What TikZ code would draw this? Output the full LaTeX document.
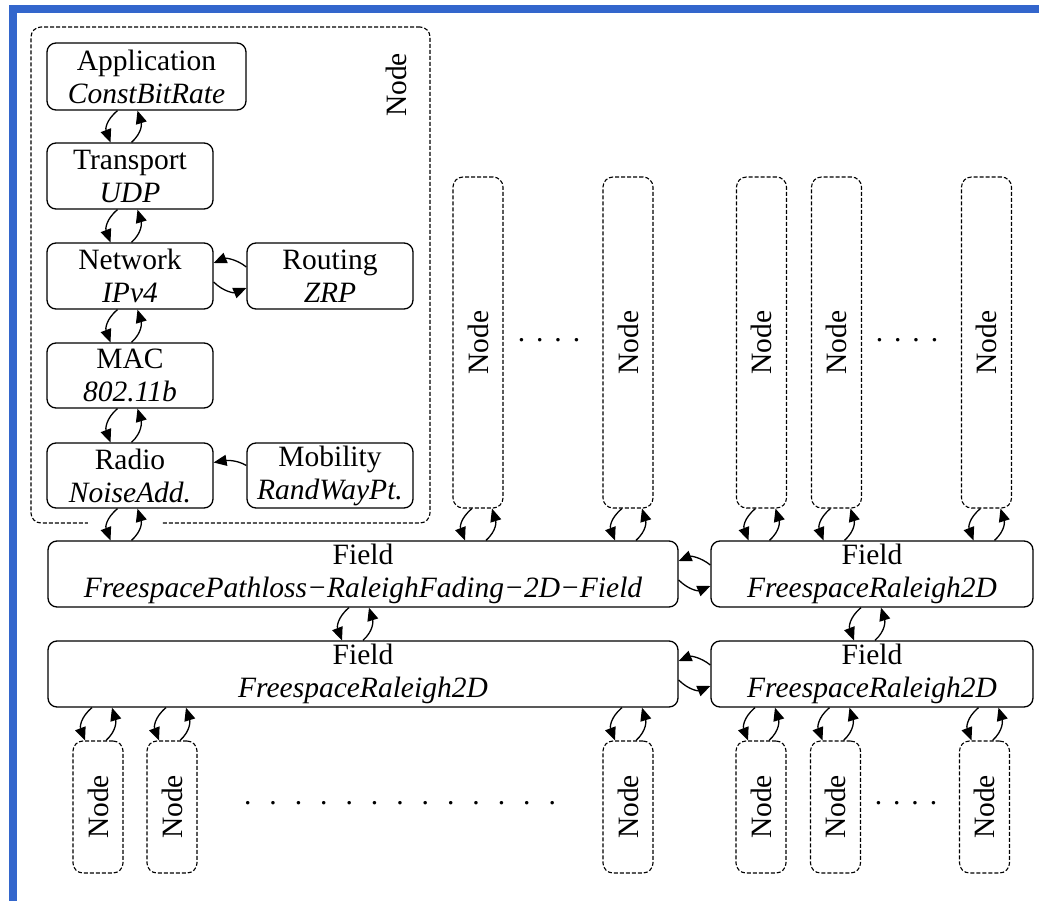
\documentclass[tikz,border=0pt]{standalone}
\usepackage{fontspec}
\usepackage{graphicx}
\setmainfont{Liberation Serif}
\usetikzlibrary{arrows.meta}
\definecolor{frameblue}{RGB}{51,102,204}
\newcommand\fs{\fontsize{29.5}{33}\selectfont}
\newcommand\vpair[3]{%
 \draw[arr] ([xshift=-6pt]#1.south -| #3) .. controls ([xshift=-18pt,yshift=-10pt]#1.south -| #3) and ([xshift=-18pt,yshift=13pt]#2.north -| #3) .. ([xshift=-13pt]#2.north -| #3);
 \draw[arr] ([xshift=8pt]#2.north -| #3) .. controls ([xshift=19pt,yshift=10pt]#2.north -| #3) and ([xshift=18pt,yshift=-13pt]#1.south -| #3) .. ([xshift=14pt]#1.south -| #3);
}
\newcommand\hpair[2]{%
 \draw[arr] ([yshift=9pt]#2.west) .. controls ([xshift=-10pt,yshift=17pt]#2.west) and ([xshift=12pt,yshift=18pt]#1.east) .. ([yshift=13pt]#1.east);
 \draw[arr] ([yshift=-6pt]#1.east) .. controls ([xshift=10pt,yshift=-16pt]#1.east) and ([xshift=-12pt,yshift=-17pt]#2.west) .. ([yshift=-12pt]#2.west);
}
\begin{document}
\begin{tikzpicture}[x=1pt,y=-1pt,
 box/.style={draw, line width=1.3pt, rounded corners=9pt, inner sep=0pt, align=center, font=\fs},
 dbox/.style={draw, line width=1.1pt, dash pattern=on 4pt off 2pt, rounded corners=10pt, inner sep=0pt, font=\fs},
 arr/.style={line width=1.3pt, -{Triangle[length=13pt,width=11pt]}},
 lab/.style={font=\fs, inner sep=0pt}]
\useasboundingbox (0,0) rectangle (1039,901);
\fill[white] (0,0) rectangle (1039,901);
\fill[frameblue] (9,5) rectangle (1039,13);
\fill[frameblue] (9,5) rectangle (17,901);

% cluster
\node[dbox, minimum width=399pt, minimum height=496pt] (cl) at (230.5,275) {};
\draw[white, line width=3pt] ([xshift=58pt]cl.south west) -- ([xshift=132pt]cl.south west);
\node[lab] (cllab) at (396,85) {\rotatebox{90}{Node}};

% protocol stack
\node[box, minimum width=199pt, minimum height=67pt] (app) at (146.5,76.5) {Application\\\textit{ConstBitRate}};
\node[box, minimum width=166pt, minimum height=66pt] (trans) at (130,176) {Transport\\\textit{UDP}};
\node[box, minimum width=166pt, minimum height=66pt] (net) at (130,276) {Network\\\textit{IPv4}};
\node[box, minimum width=166pt, minimum height=66pt] (rout) at (330,276) {Routing\\\textit{ZRP}};
\node[box, minimum width=166pt, minimum height=65pt] (mac) at (130,375.5) {MAC\\\textit{802.11b}};
\node[box, minimum width=166pt, minimum height=65pt] (radio) at (130,475.5) {Radio\\\textit{NoiseAdd.}};
\node[box, minimum width=166pt, minimum height=65pt] (mob) at (330,475.5) {Mobility\\\textit{RandWayPt.}};

% fields
\node[box, minimum width=630pt, minimum height=66pt] (f1) at (363,574) {Field\\\textit{FreespacePathloss−RaleighFading−2D−Field}};
\node[box, minimum width=322pt, minimum height=66pt] (f2) at (872,574) {Field\\\textit{FreespaceRaleigh2D}};
\node[box, minimum width=630pt, minimum height=66pt] (f3) at (363,674) {Field\\\textit{FreespaceRaleigh2D}};
\node[box, minimum width=322pt, minimum height=66pt] (f4) at (872,674) {Field\\\textit{FreespaceRaleigh2D}};

% top nodes
\node[dbox, minimum width=50pt, minimum height=331pt] (t1) at (478,342.5) {\rotatebox{90}{Node}};
\node[dbox, minimum width=50pt, minimum height=331pt] (t2) at (628,342.5) {\rotatebox{90}{Node}};
\node[dbox, minimum width=50pt, minimum height=331pt] (t3) at (761.5,342.5) {\rotatebox{90}{Node}};
\node[dbox, minimum width=50pt, minimum height=331pt] (t4) at (836.5,342.5) {\rotatebox{90}{Node}};
\node[dbox, minimum width=50pt, minimum height=331pt] (t5) at (986.5,342.5) {\rotatebox{90}{Node}};
\node[lab] (td1) at (549,340) {.\hspace{11pt}.\hspace{11pt}.\hspace{11pt}.};
\node[lab] (td2) at (907,340) {.\hspace{11pt}.\hspace{11pt}.\hspace{11pt}.};

% bottom nodes
\node[dbox, minimum width=50pt, minimum height=132pt] (b1) at (98,807) {\rotatebox{90}{Node}};
\node[dbox, minimum width=50pt, minimum height=132pt] (b2) at (172,807) {\rotatebox{90}{Node}};
\node[dbox, minimum width=50pt, minimum height=132pt] (b3) at (628,807) {\rotatebox{90}{Node}};
\node[dbox, minimum width=50pt, minimum height=132pt] (b4) at (761,807) {\rotatebox{90}{Node}};
\node[dbox, minimum width=50pt, minimum height=132pt] (b5) at (835.5,807) {\rotatebox{90}{Node}};
\node[dbox, minimum width=50pt, minimum height=132pt] (b6) at (984.5,807) {\rotatebox{90}{Node}};
\node[lab] (bd1) at (400,803) {.\hspace{18pt}.\hspace{18pt}.\hspace{18pt}.\hspace{18pt}.\hspace{18pt}.\hspace{18pt}.\hspace{18pt}.\hspace{18pt}.\hspace{18pt}.\hspace{18pt}.\hspace{18pt}.\hspace{18pt}.};
\node[lab] (bd2) at (906,803) {.\hspace{11pt}.\hspace{11pt}.\hspace{11pt}.};

% x positions of vertical connector pairs
\coordinate (sx) at (123.5,0);
\coordinate (fx) at (355,0);
\coordinate (gx) at (867,0);

\vpair{app}{trans}{sx}
\vpair{trans}{net}{sx}
\vpair{net}{mac}{sx}
\vpair{mac}{radio}{sx}
\vpair{radio}{f1}{sx}
\vpair{t1}{f1}{t1}
\vpair{t2}{f1}{t2}
\vpair{t3}{f2}{t3}
\vpair{t4}{f2}{t4}
\vpair{t5}{f2}{t5}
\vpair{f1}{f3}{fx}
\vpair{f2}{f4}{gx}
\vpair{f3}{b1}{b1}
\vpair{f3}{b2}{b2}
\vpair{f3}{b3}{b3}
\vpair{f4}{b4}{b4}
\vpair{f4}{b5}{b5}
\vpair{f4}{b6}{b6}
\hpair{net}{rout}
\hpair{f1}{f2}
\hpair{f3}{f4}
\draw[arr] ([yshift=10pt]mob.west) .. controls ([xshift=-10pt,yshift=16pt]mob.west) and ([xshift=12pt,yshift=15pt]radio.east) .. ([yshift=13pt]radio.east);
\end{tikzpicture}
\end{document}
